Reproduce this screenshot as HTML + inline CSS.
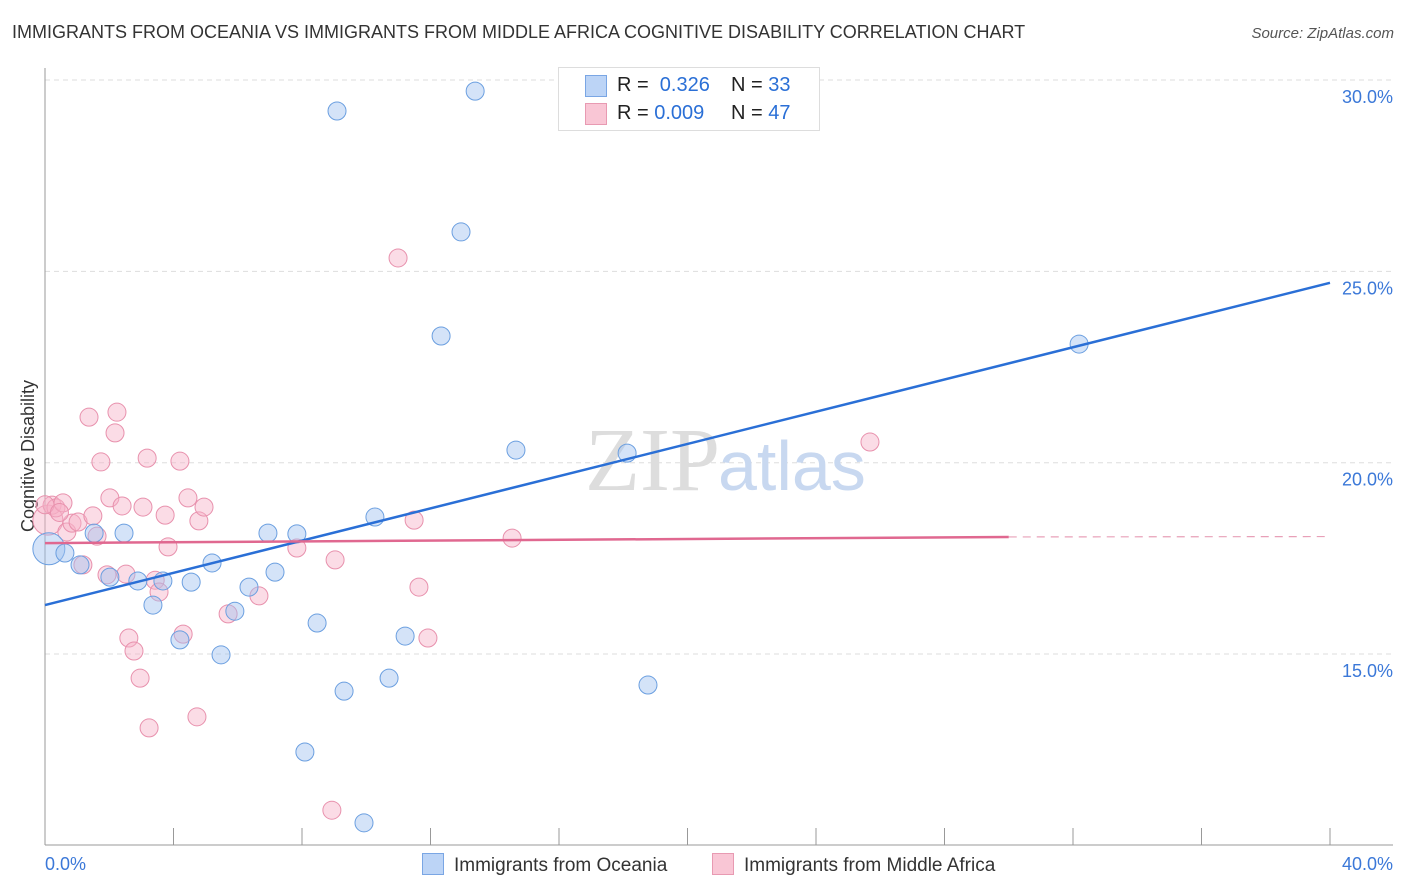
<!DOCTYPE html>
<html><head><meta charset="utf-8"><style>
body{margin:0;background:#fff;font-family:"Liberation Sans",sans-serif;}
#wrap{position:relative;width:1406px;height:892px;overflow:hidden}
.t{position:absolute;white-space:nowrap}
</style></head><body>
<div id="wrap">
<div class="t" style="left:12px;top:22px;font-size:18px;color:#333">IMMIGRANTS FROM OCEANIA VS IMMIGRANTS FROM MIDDLE AFRICA COGNITIVE DISABILITY CORRELATION CHART</div>
<div class="t" style="right:12px;top:25px;font-size:15px;color:#555;font-style:italic">Source: ZipAtlas.com</div>
<svg id="svg" width="1406" height="892" style="position:absolute;left:0;top:0"></svg>
</div>
<script>
const blueX=[0.12,0.62,1.09,1.53,2.02,2.46,2.89,3.36,3.67,4.20,4.55,5.20,5.48,5.91,6.35,6.94,7.16,7.84,8.09,8.47,9.09,9.31,9.93,10.27,10.71,11.21,12.33,12.95,13.39,14.66,18.12,18.77,32.19];
const blueY=[17.75,17.64,17.33,18.16,17.01,18.16,16.91,16.28,16.91,15.37,16.88,17.38,14.98,16.12,16.75,18.16,17.14,18.14,12.44,15.81,29.19,14.03,10.59,18.58,14.37,15.47,23.31,26.03,29.71,20.33,20.25,14.19,23.10];
const pinkX=[0.09,0.22,0.34,0.56,0.68,0.84,1.03,1.18,1.37,1.49,1.62,1.74,1.93,2.02,2.18,2.24,2.40,2.52,2.61,2.77,2.96,3.05,3.18,3.24,3.43,3.55,3.74,3.83,4.20,4.30,4.45,4.73,4.79,4.95,5.70,6.66,7.84,8.93,9.03,10.99,11.49,11.64,11.92,14.54,25.68,0.0,0.45];
const pinkY=[18.50,18.89,18.82,18.95,18.19,18.42,18.45,17.33,21.19,18.61,18.08,20.02,17.07,19.08,20.78,21.32,18.87,17.09,15.42,15.08,14.37,18.84,20.12,13.07,16.93,16.62,18.63,17.80,20.04,15.52,19.08,13.36,18.48,18.84,16.05,16.52,17.77,10.92,17.46,25.35,18.50,16.75,15.42,18.03,20.54,18.9,18.7];
const blueTrend=[16.28,24.70];
const pinkTrend=[17.90,18.06,18.07];
const yTicks=[15,20,25,30];
const xTickLabels=["0.0%","40.0%"];
const X=v=>45+v/40*1285, Y=v=>80+(30-v)*38.27;
const s=document.getElementById('svg'),NS='http://www.w3.org/2000/svg';
function mk(tag,a){const e=document.createElementNS(NS,tag);for(const k in a)e.setAttribute(k,a[k]);s.appendChild(e);return e;}
yTicks.forEach(t=>{
 const g=mk('line',{x1:45,x2:1393,y1:Y(t),y2:Y(t),stroke:'#ddd','stroke-dasharray':'5,4'});
 
 
 const tx=mk('text',{x:1393,y:Y(t)+23,'text-anchor':'end','font-size':18,fill:'#3b78d8','font-family':'Liberation Sans'});
 tx.textContent=t.toFixed(1)+'%';
 
 
});
let a=mk('line',{x1:45,x2:45,y1:68,y2:845,stroke:'#999'});


a=mk('line',{x1:45,x2:1393,y1:845,y2:845,stroke:'#999'});


for(let i=0;i<=10;i++){const l=mk('line',{x1:X(i*4),x2:X(i*4),y1:828,y2:845,stroke:'#999'});
 
 }
let t=mk('text',{x:45,y:870,'font-size':18,fill:'#3b78d8','font-family':'Liberation Sans'});t.textContent=xTickLabels[0];


t=mk('text',{x:1393,y:870,'text-anchor':'end','font-size':18,fill:'#3b78d8','font-family':'Liberation Sans'});t.textContent=xTickLabels[1];


t=mk('text',{x:34,y:456,'text-anchor':'middle','font-size':18,fill:'#333','font-family':'Liberation Sans',transform:'rotate(-90 34 456)'});t.textContent='Cognitive Disability';


t=mk('text',{x:720,y:490,'text-anchor':'end','font-size':90,fill:'#ddd','font-family':'Liberation Serif'});t.textContent='ZIP';


t=mk('text',{x:718,y:490,'font-size':70,fill:'#c8d8f0','font-family':'Liberation Sans'});t.textContent='atlas';


pinkX.forEach((x,i)=>{const c=mk('circle',{cx:X(x),cy:Y(pinkY[i]),r:i==0?15:9,fill:'rgba(246,178,200,0.45)',stroke:'#e891ad','stroke-width':1});
 
 });
blueX.forEach((x,i)=>{const c=mk('circle',{cx:X(x),cy:Y(blueY[i]),r:i==0?16:9,fill:'rgba(160,194,240,0.45)',stroke:'#6b9fe0','stroke-width':1});
 
 });
let l=mk('line',{x1:X(0),y1:Y(blueTrend[0]),x2:X(40),y2:Y(blueTrend[1]),stroke:'#2a6fd6','stroke-width':2.5});


l=mk('line',{x1:X(0),y1:Y(pinkTrend[0]),x2:X(30),y2:Y(pinkTrend[1]),stroke:'#e06890','stroke-width':2.5});


l=mk('line',{x1:X(30),y1:Y(pinkTrend[1]),x2:X(40),y2:Y(pinkTrend[2]),stroke:'#e8a0b8','stroke-width':1.2,'stroke-dasharray':'8,6'});


</script>
<div style="position:absolute;left:558px;top:67px;width:260px;height:62px;border:1px solid #ddd;background:#fff;font-size:20px">
 <div style="position:absolute;left:26px;top:7px;width:20px;height:20px;background:#bcd4f6;border:1px solid #7aa6e4"></div>
 <div class="t" style="left:58px;top:6px;color:#222">R = <span style="color:#2a6fd6">&nbsp;0.326</span></div>
 <div class="t" style="left:172px;top:6px;color:#222">N = <span style="color:#2a6fd6">33</span></div>
 <div style="position:absolute;left:26px;top:35px;width:20px;height:20px;background:#f9c6d5;border:1px solid #e89ab2"></div>
 <div class="t" style="left:58px;top:34px;color:#222">R = <span style="color:#2a6fd6">0.009</span></div>
 <div class="t" style="left:172px;top:34px;color:#222">N = <span style="color:#2a6fd6">47</span></div>
</div>
<div style="position:absolute;left:422px;top:853px;font-size:19px;color:#333">
 <div style="position:absolute;left:0;top:0;white-space:nowrap"><span style="display:inline-block;width:20px;height:20px;background:#bcd4f6;border:1px solid #7aa6e4;vertical-align:-4px;margin-right:10px"></span>Immigrants from Oceania</div>
 <div style="position:absolute;left:290px;top:0;white-space:nowrap"><span style="display:inline-block;width:20px;height:20px;background:#f9c6d5;border:1px solid #e89ab2;vertical-align:-4px;margin-right:10px"></span>Immigrants from Middle Africa</div>
</div>
</body></html>
